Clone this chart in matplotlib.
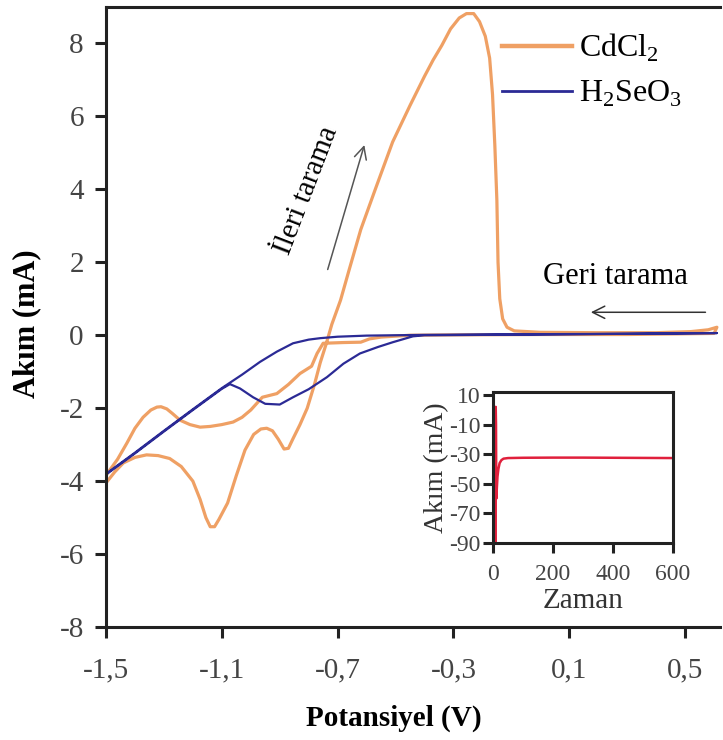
import matplotlib.pyplot as plt

plt.rcParams['font.family'] = ['Liberation Serif', 'DejaVu Serif']
plt.rcParams['mathtext.fontset'] = 'custom'
plt.rcParams['mathtext.rm'] = 'Liberation Serif'
plt.rcParams['axes.unicode_minus'] = False

# CdCl2 cyclic voltammogram (V, mA), read along the loop
cd_v = [-1.50, -1.47, -1.44, -1.40, -1.36, -1.32, -1.28, -1.24, -1.20, -1.175,
        -1.155, -1.14, -1.125, -1.11, -1.08, -1.05, -1.02, -0.99, -0.965, -0.945,
        -0.925, -0.905, -0.885, -0.87, -0.855, -0.83, -0.805, -0.78, -0.76, -0.74,
        -0.72, -0.69, -0.66, -0.62, -0.57, -0.51, -0.45, -0.40, -0.37, -0.34,
        -0.31, -0.28, -0.255, -0.23, -0.21, -0.19, -0.175, -0.165, -0.157, -0.150,
        -0.146, -0.140, -0.130, -0.115, -0.09, 0.00, 0.20, 0.40, 0.52, 0.58,
        0.61, 0.60, 0.30, 0.00, -0.30, -0.45, -0.55, -0.59, -0.62, -0.68,
        -0.75, -0.771, -0.79, -0.83, -0.87, -0.91, -0.96, -1.00, -1.03, -1.061,
        -1.10, -1.14, -1.175, -1.21, -1.244, -1.27, -1.29, -1.31, -1.324, -1.345,
        -1.372, -1.40, -1.428, -1.46, -1.50]
cd_i = [-4.05, -3.75, -3.50, -3.35, -3.28, -3.30, -3.38, -3.60, -4.00, -4.50,
        -5.00, -5.25, -5.25, -5.05, -4.60, -3.85, -3.15, -2.72, -2.57, -2.55,
        -2.62, -2.85, -3.12, -3.10, -2.85, -2.45, -2.00, -1.35, -0.75, -0.25,
        0.30, 0.96, 1.80, 2.90, 4.00, 5.30, 6.30, 7.10, 7.55, 7.95,
        8.40, 8.70, 8.82, 8.82, 8.60, 8.20, 7.60, 6.60, 5.20, 3.70,
        2.00, 1.00, 0.45, 0.22, 0.12, 0.08, 0.07, 0.07, 0.10, 0.15,
        0.22, 0.05, 0.02, 0.02, 0.01, 0.00, -0.05, -0.10, -0.19, -0.20,
        -0.22, -0.50, -0.85, -1.05, -1.35, -1.60, -1.70, -2.05, -2.25, -2.38,
        -2.45, -2.50, -2.52, -2.45, -2.33, -2.15, -2.02, -1.96, -1.97, -2.05,
        -2.25, -2.55, -2.96, -3.40, -3.84]

# H2SeO3 cyclic voltammogram
se_v = [-1.50, -1.40, -1.30, -1.20, -1.10, -1.03, -0.968, -0.91, -0.854, -0.80,
        -0.76, -0.70, -0.60, -0.40, 0.00, 0.30, 0.61,
        0.30, 0.00, -0.40, -0.44, -0.509, -0.56, -0.623, -0.68, -0.737, -0.80,
        -0.854, -0.90, -0.95, -0.992, -1.037, -1.072, -1.10, -1.20, -1.30, -1.40, -1.50]
se_i = [-3.80, -3.22, -2.62, -2.03, -1.45, -1.08, -0.73, -0.45, -0.22, -0.12,
        -0.08, -0.04, -0.01, 0.01, 0.03, 0.04, 0.06,
        0.04, 0.02, 0.00, -0.03, -0.19, -0.32, -0.50, -0.78, -1.15, -1.48,
        -1.70, -1.90, -1.88, -1.70, -1.46, -1.34, -1.47, -2.05, -2.64, -3.24, -3.82]

# inset: current vs time
t_s = [9, 9, 10, 11, 13, 15, 18, 22, 28, 35, 50, 100, 200, 300, 400, 500, 600]
t_i = [-90, 2, -10, -60, -52, -45, -40, -36, -34, -33, -32.6, -32.4, -32.3, -32.3, -32.4, -32.5, -32.6]

x_ticks = [-1.5, -1.1, -0.7, -0.3, 0.1, 0.5]
x_labels = ['-1,5', '-1,1', '-0,7', '-0,3', '0,1', '0,5']
y_ticks = [-8, -6, -4, -2, 0, 2, 4, 6, 8]

orange = '#EFA064'
navy = '#2B2A95'

fig = plt.figure(figsize=(7.23, 7.40), dpi=100)
ax = fig.add_axes([0.1466, 0.1527, 0.849, 0.8378])

ax.plot(cd_v, cd_i, color=orange, lw=2.3, label='CdCl$_2$')
ax.plot(se_v, se_i, color=navy, lw=1.6, label='H$_2$SeO$_3$')

ax.set_xlim(-1.5, 0.62)
ax.set_ylim(-8, 9)
ax.set_xticks(x_ticks)
ax.set_xticklabels(x_labels)
ax.set_yticks(y_ticks)
ax.spines['right'].set_visible(False)
for s in ['left', 'bottom', 'top']:
    ax.spines[s].set_linewidth(2.2)
    ax.spines[s].set_color('#222222')
ax.tick_params(axis='both', direction='out', length=8, width=2.2, color='#222222',
               labelsize=21, labelcolor='#444444')
ax.tick_params(axis='x', pad=14)
ax.tick_params(axis='y', pad=8)

ax.set_xlabel('Potansiyel (V)', fontsize=21, fontweight='bold')
ax.xaxis.set_label_coords(0.469, -0.125)
ax.set_ylabel('Akım (mA)', fontsize=22, fontweight='bold')
ax.yaxis.set_label_coords(-0.105, 0.49)

leg = ax.legend(loc='upper right', bbox_to_anchor=(0.985, 1.006), frameon=False,
                fontsize=23, handlelength=2.2, handletextpad=0.2, labelspacing=0.45)
leg.get_lines()[0].set_linewidth(3.2)
leg.get_lines()[1].set_linewidth(2.0)

# scan direction arrows
ax.annotate('', xy=(-0.605, 5.29), xytext=(-0.737, 1.73),
            arrowprops=dict(arrowstyle='->', color='#555555', lw=1.1, mutation_scale=22))
ax.text(-0.806, 3.97, 'İleri tarama', rotation=69, fontsize=21,
        ha='center', va='center', rotation_mode='anchor')
ax.annotate('', xy=(0.165, 0.63), xytext=(0.58, 0.63),
            arrowprops=dict(arrowstyle='->', color='#333333', lw=1.1, mutation_scale=22))
ax.text(0.258, 1.6, 'Geri tarama', fontsize=22, ha='center', va='center')

# inset
ins = fig.add_axes([0.6819, 0.2662, 0.249, 0.204])
ins.plot(t_s, t_i, color='#E0203C', lw=1.8)
ins.set_xlim(0, 600)
ins.set_ylim(-90, 12)
ins.set_xticks([0, 200, 400, 600])
ins.set_yticks([10, -10, -30, -50, -70, -90])
for s in ins.spines.values():
    s.set_linewidth(2.2)
    s.set_color('#222222')
ins.tick_params(axis='both', direction='out', length=7, width=2.2, color='#222222',
                labelsize=17, labelcolor='#444444', pad=2)
ins.tick_params(axis='x', pad=8)
ins.set_xlabel('Zaman', fontsize=21, color='#333333', labelpad=2)
ins.set_ylabel('Akım (mA)', fontsize=20, color='#333333', labelpad=0)

fig.savefig('out.png', dpi=100)
